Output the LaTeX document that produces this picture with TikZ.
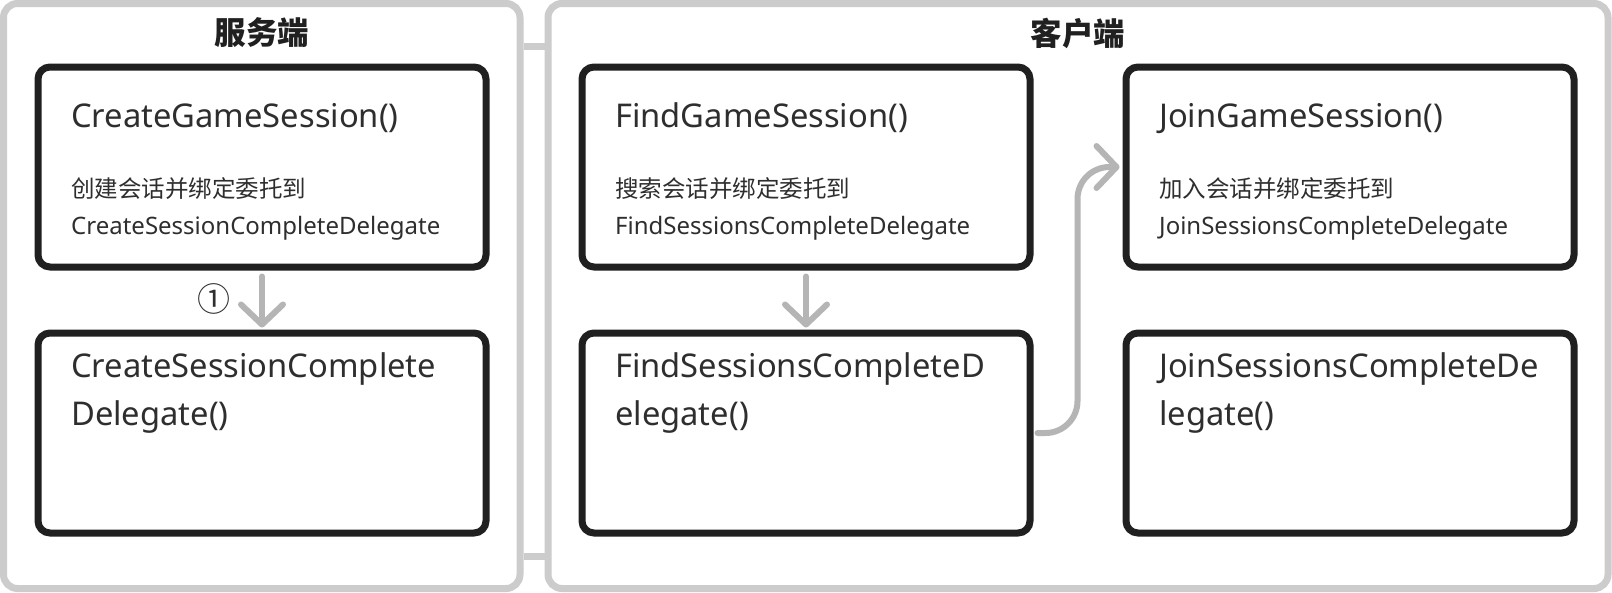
\documentclass[tikz,border=0pt]{standalone}
\usepackage{fontspec}
\setmainfont{Noto Sans}
\newfontfamily\cjk{Noto Sans CJK SC}
\usetikzlibrary{arrows.meta,calc}
\definecolor{panelgray}{HTML}{CCCCCC}
\definecolor{boxblack}{HTML}{202020}
\definecolor{arrowgray}{HTML}{B5B5B5}
\definecolor{txt}{HTML}{2E2E2E}
\tikzset{
  panel/.style={draw=panelgray, line width=7pt, rounded corners=14pt, inner sep=0pt, fill=white},
  fbox/.style={draw=boxblack, line width=7pt, rounded corners=12pt, minimum width=448pt, minimum height=200pt, inner sep=0pt, fill=white},
  bar/.style={draw=panelgray, line width=7pt},
  conn/.style={draw=arrowgray, line width=6pt, line cap=round, -{Straight Barb[length=20pt,width=42pt,round]}},
  big/.style={anchor=base west, inner sep=0pt, text=txt, font=\fontsize{32.7pt}{40pt}\selectfont},
  small/.style={anchor=base west, inner sep=0pt, text=txt, font=\fontsize{24pt}{30pt}\selectfont},
  cjks/.style={anchor=base west, inner sep=0pt, text=txt, font=\cjk\fontsize{23.5pt}{30pt}\selectfont},
  head/.style={anchor=center, inner sep=0pt, text=boxblack, font=\cjk\bfseries\fontsize{31.5pt}{36pt}\selectfont},
  num/.style={anchor=center, inner sep=0pt, text=txt, font=\cjk\fontsize{33pt}{36pt}\selectfont},
}
\begin{document}
\begin{tikzpicture}[x=1pt,y=-1pt]
\useasboundingbox[fill=white] (0,0) rectangle (1612,592);
% panels
\node[panel, minimum width=516.5pt, minimum height=585pt] (L) at (261.75,296) {};
\node[panel, minimum width=1060pt, minimum height=585pt] (R) at (1078,296) {};
\coordinate (bt) at (0,46);
\coordinate (bb) at (0,556);
\draw[bar] (L.east|-bt) -- (R.west|-bt);
\draw[bar] (L.east|-bb) -- (R.west|-bb);
\node[head] (hl) at (262,33) {服务端};
\node[head] (hr) at (1078,33) {客户端};
% boxes
\node[fbox] (A) at (262,167) {};
\node[fbox] (B) at (262,433) {};
\node[fbox] (C) at (806,167) {};
\node[fbox] (D) at (806,433) {};
\node[fbox] (E) at (1350,167) {};
\node[fbox] (F) at (1350,433) {};
% texts
\node[big] (a1) at (71,127) {CreateGameSession()};
\node[cjks] (a2) at (71,197) {创建会话并绑定委托到};
\node[small] (a3) at (71,234) {CreateSessionCompleteDelegate};
\node[big] (b1) at (71,377.5) {CreateSessionComplete};
\node[big] (b2) at (71,425) {Delegate()};
\node[big] (c1) at (615,127) {FindGameSession()};
\node[cjks] (c2) at (615,197) {搜索会话并绑定委托到};
\node[small] (c3) at (615,234) {FindSessionsCompleteDelegate};
\node[big] (d1) at (615,377.5) {FindSessionsCompleteD};
\node[big] (d2) at (615,425) {elegate()};
\node[big] (e1) at (1159,127) {JoinGameSession()};
\node[cjks] (e2) at (1159,197) {加入会话并绑定委托到};
\node[small] (e3) at (1159,234) {JoinSessionsCompleteDelegate};
\node[big] (f1) at (1159,377.5) {JoinSessionsCompleteDe};
\node[big] (f2) at (1159,425) {legate()};
\node[num] (n1) at (214,299) {①};
% connectors
\draw[conn, shorten <=6pt, shorten >=2pt] (A.south) -- (B.north);
\draw[conn, shorten <=6pt, shorten >=2pt] (C.south) -- (D.north);
\draw[conn, rounded corners=32pt] ([xshift=4pt]D.east) -- ++(40,0) |- ([xshift=-3pt]E.west);
\end{tikzpicture}
\end{document}
